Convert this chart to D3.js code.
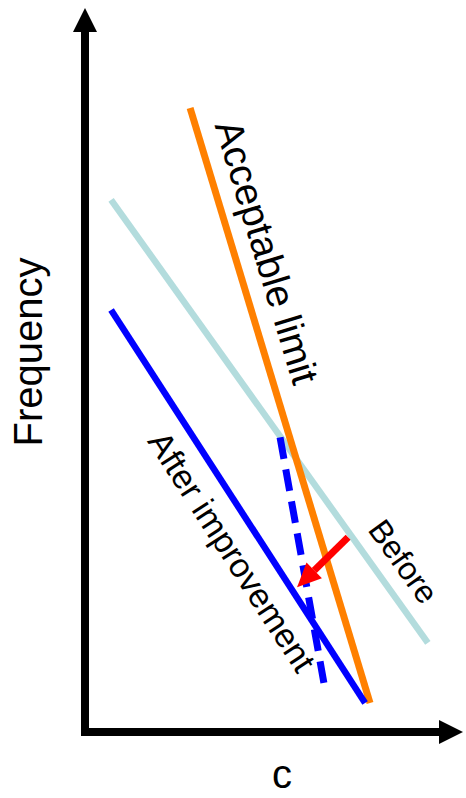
<!DOCTYPE html>
<html>
<head>
<meta charset="utf-8">
<script src="https://cdn.jsdelivr.net/npm/d3@7"></script>
<style>
  html, body { margin: 0; padding: 0; background: #fff; }
  svg { display: block; }
  text { font-family: "Liberation Sans", Arial, Helvetica, sans-serif; fill: #000; }
</style>
</head>
<body>
<svg id="chart" width="466" height="798"></svg>
<script>
// ---- Data (conceptual chart, arbitrary units 0..100) ----
const axisTitles = { x: "c", y: "Frequency" };
const acceptableLimit = [{ x: 27.8, y: 86.2 }, { x: 75.4, y: 4.0 }];
const before = [{ x: 6.9, y: 73.5 }, { x: 90.7, y: 12.3 }];
const afterImprovement = [{ x: 6.9, y: 58.3 }, { x: 74.1, y: 4.0 }];
const shiftedLimit = [{ x: 51.6, y: 40.7 }, { x: 63.2, y: 6.8 }];
const improvementArrow = [{ x: 69.6, y: 26.9 }, { x: 56.1, y: 20.0 }];
const lineLabels = ["Acceptable limit", "After improvement", "Before"];

// ---- Layout ----
const svg = d3.select("#chart");
const x = d3.scaleLinear().domain([0, 100]).range([85, 463]);
const y = d3.scaleLinear().domain([0, 100]).range([732, 8]);
const line = d3.line().x(d => x(d.x)).y(d => y(d.y));

function angleOf(pts) {
  return Math.atan2(y(pts[1].y) - y(pts[0].y), x(pts[1].x) - x(pts[0].x)) * 180 / Math.PI;
}

// Series lines
const series = [
  { data: before, color: "#b3dcdd", width: 6.5 },
  { data: acceptableLimit, color: "#ff8000", width: 7 },
  { data: afterImprovement, color: "#0000ff", width: 6.5 },
];
svg.selectAll("path.series").data(series).join("path")
  .attr("class", "series")
  .attr("d", d => line(d.data))
  .attr("fill", "none")
  .attr("stroke", d => d.color)
  .attr("stroke-width", d => d.width);

// Dashed shifted line
svg.append("path")
  .attr("d", line(shiftedLimit))
  .attr("fill", "none")
  .attr("stroke", "#0000ff")
  .attr("stroke-width", 7)
  .attr("stroke-dasharray", "22 10.5");

// Red arrow
{
  const x0 = x(improvementArrow[0].x), y0 = y(improvementArrow[0].y);
  const x1 = x(improvementArrow[1].x), y1 = y(improvementArrow[1].y);
  const a = Math.atan2(y1 - y0, x1 - x0);
  const headLen = 24, headW = 11;
  const bx = x1 - headLen * Math.cos(a), by = y1 - headLen * Math.sin(a);
  svg.append("line")
    .attr("x1", x0).attr("y1", y0).attr("x2", bx).attr("y2", by)
    .attr("stroke", "#ff0000").attr("stroke-width", 7);
  const px = -Math.sin(a), py = Math.cos(a);
  svg.append("polygon")
    .attr("points", [[x1, y1], [bx + px * headW, by + py * headW], [bx - px * headW, by - py * headW]].map(p => p.join(",")).join(" "))
    .attr("fill", "#ff0000");
}

// Axes with arrowheads
const ox = x(0), oy = y(0);
const xEnd = x(100), yEnd = y(100);
const headL = 24, headHW = 12, axW = 8;
svg.append("line")
  .attr("x1", ox - axW / 2).attr("y1", oy).attr("x2", xEnd - headL + 1).attr("y2", oy)
  .attr("stroke", "#000").attr("stroke-width", axW);
svg.append("polygon")
  .attr("points", `${xEnd},${oy} ${xEnd - headL},${oy - headHW} ${xEnd - headL},${oy + headHW}`)
  .attr("fill", "#000");
svg.append("line")
  .attr("x1", ox).attr("y1", oy + axW / 2).attr("x2", ox).attr("y2", yEnd + headL - 1)
  .attr("stroke", "#000").attr("stroke-width", axW);
svg.append("polygon")
  .attr("points", `${ox},${yEnd} ${ox - headHW},${yEnd + headL} ${ox + headHW},${yEnd + headL}`)
  .attr("fill", "#000");

// Axis titles
svg.append("text")
  .attr("x", 282).attr("y", 788)
  .attr("text-anchor", "middle")
  .attr("font-size", 40)
  .text(axisTitles.x);
svg.append("text")
  .attr("transform", "translate(42,352) rotate(-90)")
  .attr("text-anchor", "middle")
  .attr("font-size", 40)
  .text(axisTitles.y);

// Line labels (placed along their lines)
const labelCfg = [
  { text: lineLabels[0], px: 254, py: 256, size: 39, ref: acceptableLimit },
  { text: lineLabels[1], px: 222, py: 558, size: 34, ref: afterImprovement },
  { text: lineLabels[2], px: 394.5, py: 568, size: 32, ref: before },
];
svg.selectAll("text.lbl").data(labelCfg).join("text")
  .attr("class", "lbl")
  .attr("transform", d => `translate(${d.px},${d.py}) rotate(${angleOf(d.ref)})`)
  .attr("text-anchor", "middle")
  .attr("font-size", d => d.size)
  .text(d => d.text);
</script>
</body>
</html>
